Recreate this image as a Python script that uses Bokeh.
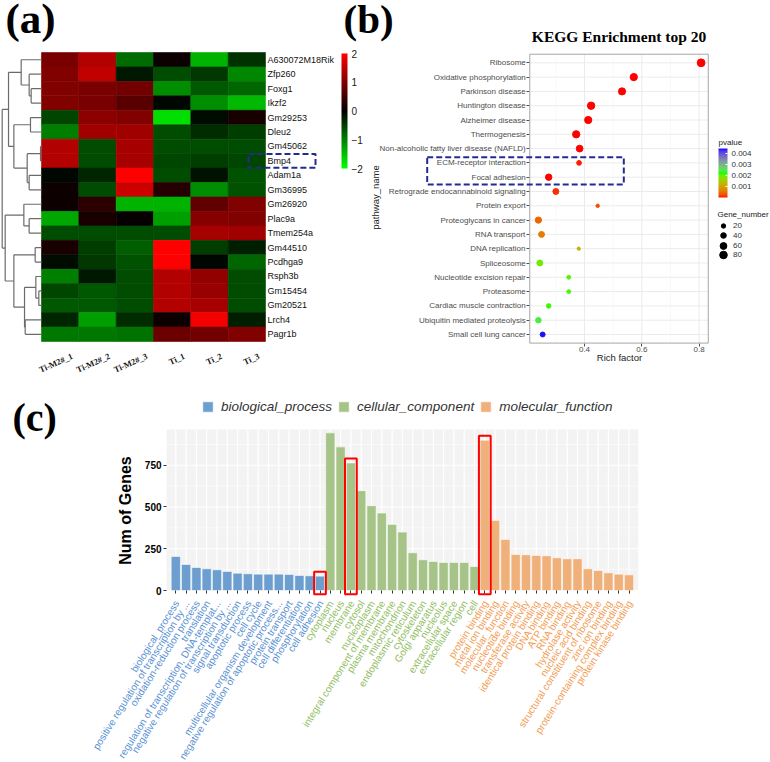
import numpy as np
from bokeh.plotting import figure
from bokeh.models import (ColumnDataSource, Range1d, LinearColorMapper, ColorBar, FixedTicker,
                          Label, Legend, LegendItem, BoxAnnotation, PrintfTickFormatter)
from bokeh.layouts import row, column
from bokeh.embed import file_html
from bokeh.resources import INLINE

# ======================= DATA =======================
# (a) heatmap: row-scaled expression (z-score), rows top -> bottom
genes = ["A630072M18Rik", "Zfp260", "Foxg1", "Ikzf2", "Gm29253", "Dleu2", "Gm45062", "Bmp4",
         "Adam1a", "Gm36995", "Gm26920", "Plac9a", "Tmem254a", "Gm44510", "Pcdhga9", "Rsph3b",
         "Gm15454", "Gm20521", "Lrch4", "Pagr1b"]
samples = ["Ti-M2#_1", "Ti-M2#_2", "Ti-M2#_3", "Ti_1", "Ti_2", "Ti_3"]
z_TiM2_1 = [0.95, 1.0, 1.0, 1.0, -0.55, -1.0, 1.4, 1.4, -0.05, 0.1, 0.1, -1.3, -0.6, 0.2, -0.1, -1.0, -0.55, -0.7, -0.3, -0.95]
z_TiM2_2 = [1.4, 1.5, 0.95, 0.95, 1.1, 1.25, -0.6, -0.6, -0.3, -0.6, 0.35, 0.2, -0.6, -0.5, -0.45, -0.2, -0.7, -0.7, -1.25, -0.95]
z_TiM2_3 = [-0.85, -0.2, 0.9, 0.7, 1.0, 1.25, 1.3, 1.3, 2.0, 1.6, -1.4, 0.05, -0.6, -0.75, -0.65, -0.6, -0.6, -0.6, -0.35, -0.9]
z_Ti_1 = [0.1, -0.6, -1.1, -0.05, -1.75, -0.6, -0.6, -0.55, -0.6, 0.3, -1.4, -1.25, -0.6, 2.0, 2.0, 1.4, 1.4, 1.4, 0.1, 0.85]
z_Ti_2 = [-1.4, -0.45, -0.7, -1.1, -0.1, -0.35, -0.6, -0.5, -0.15, -1.1, 0.75, 1.05, 1.3, -0.5, -0.05, 1.15, 1.2, 1.3, 1.9, 0.9]
z_Ti_3 = [-0.4, -1.05, -0.8, -1.45, 0.2, -0.5, -0.6, -0.55, -0.65, -0.65, 1.0, 1.0, 1.25, -0.25, -0.8, -0.6, -0.6, -0.6, -0.25, 1.0]
# row dendrogram: merge k creates node 20+k from (left, right) at relative height
dendro_left = [2, 1, 0, 4, 6, 8, 24, 23, 22, 11, 10, 13, 16, 15, 18, 33, 31, 30, 28]
dendro_right = [3, 20, 21, 5, 7, 9, 25, 26, 27, 12, 29, 14, 17, 32, 19, 34, 35, 36, 37]
dendro_height = [0.263, 0.314, 0.517, 0.28, 0.025, 0.314, 0.364, 0.703, 0.839, 0.314, 0.449,
                 0.161, 0.068, 0.144, 0.415, 0.432, 0.703, 0.924, 1.0]
heat_ticks = [-2, -1, 0, 1, 2]
highlight_gene = "Bmp4"

# (b) KEGG enrichment top 20
pathways = ["Ribosome", "Oxidative phosphorylation", "Parkinson disease", "Huntington disease",
            "Alzheimer disease", "Thermogenesis", "Non-alcoholic fatty liver disease (NAFLD)",
            "ECM-receptor interaction", "Focal adhesion", "Retrograde endocannabinoid signaling",
            "Protein export", "Proteoglycans in cancer", "RNA transport", "DNA replication",
            "Spliceosome", "Nucleotide excision repair", "Proteasome", "Cardiac muscle contraction",
            "Ubiquitin mediated proteolysis", "Small cell lung cancer"]
rich_factor = [0.807, 0.572, 0.531, 0.423, 0.413, 0.371, 0.383, 0.381, 0.275, 0.300,
               0.446, 0.239, 0.250, 0.380, 0.244, 0.345, 0.345, 0.275, 0.239, 0.254]
gene_number = [90, 75, 72, 78, 74, 76, 62, 25, 55, 45, 10, 52, 45, 8, 45, 14, 14, 22, 38, 28]
pvalue = [1e-12, 1e-9, 1e-8, 1e-6, 1e-6, 1e-5, 1e-5, 5e-5, 1e-5, 1e-4,
          2.5e-4, 4e-4, 6e-4, 1.2e-3, 1.95e-3, 2.05e-3, 2.1e-3, 2.15e-3, 2.4e-3, 4.4e-3]
rich_ticks = [0.4, 0.6, 0.8]
rich_minor = [0.3, 0.5, 0.7]
rich_limits = [0.209, 0.832]
size_legend_values = [20, 40, 60, 80]
pvalue_ticks = [0.001, 0.002, 0.003, 0.004]
pvalue_limits = [0.0, 0.00445]
highlight_pathways = ["ECM-receptor interaction", "Focal adhesion"]

# (c) GO annotation
bp_terms = ["biological_process", "positive regulation of transcription by ...",
            "oxidation-reduction process", "translation", "regulation of transcription, DNA-templat...",
            "negative regulation of transcription by ...", "signal transduction", "apoptotic process",
            "cell cycle", "multicellular organism development",
            "negative regulation of apoptotic process...", "protein transport", "cell differentiation",
            "phosphorylation", "cell adhesion"]
bp_counts = [204, 156, 138, 130, 124, 114, 104, 100, 98, 98, 98, 96, 90, 88, 86]
cc_terms = ["cytoplasm", "nucleus", "membrane", "cytosol", "nucleoplasm",
            "integral component of membrane", "plasma membrane", "mitochondrion",
            "endoplasmic reticulum", "cytoskeleton", "Golgi apparatus", "nucleolus",
            "extracellular space", "extracellular region", "cell"]
cc_counts = [944, 860, 764, 598, 508, 464, 396, 350, 226, 184, 174, 168, 168, 168, 144]
mf_terms = ["protein binding", "metal ion binding", "molecular_function", "nucleotide binding",
            "transferase activity", "identical protein binding", "DNA binding", "ATP binding",
            "RNA binding", "hydrolase activity", "nucleic acid binding",
            "structural constituent of ribosome", "zinc ion binding",
            "protein-containing complex binding", "protein kinase binding"]
mf_counts = [900, 420, 306, 216, 214, 210, 208, 196, 190, 190, 130, 120, 106, 98, 94]
go_groups = ["biological_process", "cellular_component", "molecular_function"]
go_ticks = [0, 250, 500, 750]
go_minor = [125, 375, 625, 875]
go_ymax = 964
highlight_terms = ["cell adhesion", "membrane", "protein binding"]

# ======================= HELPERS =======================
M_RGB2XYZ = np.array([[0.4124564, 0.3575761, 0.1804375],
                      [0.2126729, 0.7151522, 0.0721750],
                      [0.0193339, 0.1191920, 0.9503041]])
WHITE = np.array([0.95047, 1.0, 1.08883])


def hex_to_lab(h):
    c = np.array([int(h[i:i + 2], 16) for i in (1, 3, 5)], float) / 255
    lin = np.where(c <= 0.04045, c / 12.92, ((c + 0.055) / 1.055) ** 2.4)
    xyz = M_RGB2XYZ @ lin / WHITE
    d = 6 / 29
    f = np.where(xyz > d ** 3, np.cbrt(xyz), xyz / (3 * d * d) + 4 / 29)
    return np.array([116 * f[1] - 16, 500 * (f[0] - f[1]), 200 * (f[1] - f[2])])


def lab_to_hex(lab):
    L, a, b = lab
    fy = (L + 16) / 116
    f = np.array([fy + a / 500, fy, fy - b / 200])
    d = 6 / 29
    xyz = np.where(f > d, f ** 3, 3 * d * d * (f - 4 / 29)) * WHITE
    lin = np.clip(np.linalg.inv(M_RGB2XYZ) @ xyz, 0, 1)
    c = np.where(lin <= 0.0031308, 12.92 * lin, 1.055 * lin ** (1 / 2.4) - 0.055)
    c = np.clip(np.round(c * 255), 0, 255).astype(int)
    return "#%02x%02x%02x" % tuple(c)


def lab_palette(hexes, n=256):
    labs = [hex_to_lab(h) for h in hexes]
    k = len(labs) - 1
    out = []
    for t in np.linspace(0, 1, n):
        s = t * k
        i = min(int(s), k - 1)
        f = s - i
        out.append(lab_to_hex(labs[i] * (1 - f) + labs[i + 1] * f))
    return out


def rgb_palette(n_half=128):
    out = []
    for t in np.linspace(0, 1, n_half):
        out.append("#%02x%02x%02x" % (0, int(round(255 * (1 - t))), 0))
    for t in np.linspace(0, 1, n_half):
        out.append("#%02x%02x%02x" % (int(round(255 * t)), 0, 0))
    return out


SANS = "Liberation Sans"
SERIF = "Liberation Serif"


def style_axis(ax, size, color, tick_color=None, standoff=2, font=SANS, bold=False):
    ax.axis_line_color = None
    ax.minor_tick_line_color = None
    ax.major_label_text_font = font
    ax.major_label_text_font_size = size
    ax.major_label_text_color = color
    ax.major_label_text_font_style = "bold" if bold else "normal"
    ax.major_label_standoff = standoff
    if tick_color is None:
        ax.major_tick_line_color = None
        ax.major_tick_out = 0
    else:
        ax.major_tick_line_color = tick_color
        ax.major_tick_out = 3
    ax.major_tick_in = 0


def new_fig(w, h, xr, yr, **kw):
    # the whole canvas is the frame; axes are pinned with fixed_location
    return figure(width=w, height=h, x_range=Range1d(*xr), y_range=Range1d(*yr),
                  toolbar_location=None, output_backend="svg",
                  min_border_left=0, min_border_right=0, min_border_top=0, min_border_bottom=0,
                  outline_line_color=None, **kw)


# ======================= (a) HEATMAP =======================
A_W, A_H = 368, 380
A_X0, A_COLW, A_Y0, A_ROWH = 41, 37.33, 52, 14.45


def ax_(X):
    return (X - A_X0) / A_COLW - 0.5


def ay_(Y):
    return 19.5 - (Y - A_Y0) / A_ROWH


DENDRO_W = 1.053
p1 = new_fig(A_W, A_H, (ax_(0), ax_(A_W)), (ay_(A_H), ay_(0)), y_axis_location="right")
p1.grid.visible = False

hmap = LinearColorMapper(palette=rgb_palette(), low=heat_ticks[0], high=heat_ticks[-1])
cols = [z_TiM2_1, z_TiM2_2, z_TiM2_3, z_Ti_1, z_Ti_2, z_Ti_3]
ngene = len(genes)
hx, hy, hv = [], [], []
for j, col in enumerate(cols):
    for i, v in enumerate(col):
        hx.append(j)
        hy.append(ngene - 1 - i)
        hv.append(v)
src1 = ColumnDataSource(dict(x=hx, y=hy, v=hv))
p1.rect(x="x", y="y", width=1, height=1, source=src1,
        fill_color={"field": "v", "transform": hmap},
        line_color={"field": "v", "transform": hmap}, line_width=0.6)

pos_y = {i: ngene - 1 - i for i in range(ngene)}
pos_h = {i: 0.0 for i in range(ngene)}
sx0, sy0, sx1, sy1 = [], [], [], []
for k, (a, b, h) in enumerate(zip(dendro_left, dendro_right, dendro_height)):
    X = -0.5 - h * DENDRO_W
    ya, yb = pos_y[a], pos_y[b]
    sx0 += [X, -0.5 - pos_h[a] * DENDRO_W, -0.5 - pos_h[b] * DENDRO_W]
    sy0 += [ya, ya, yb]
    sx1 += [X, X, X]
    sy1 += [yb, ya, yb]
    pos_y[ngene + k] = (ya + yb) / 2
    pos_h[ngene + k] = h
p1.segment(x0=sx0, y0=sy0, x1=sx1, y1=sy1, line_color="#6b6b6b", line_width=1.2)

p1.xaxis.visible = False
for j, s in enumerate(samples):
    p1.add_layout(Label(x=j, y=-0.5, x_offset=12, y_offset=-14, text=s, angle=0.42,
                        text_align="right", text_baseline="middle", text_font=SERIF,
                        text_font_style="bold", text_font_size="8.5px", text_color="#111111"))
p1.yaxis.fixed_location = len(samples) - 0.5
p1.yaxis.ticker = FixedTicker(ticks=list(range(ngene)))
p1.yaxis.major_label_overrides = {ngene - 1 - i: g for i, g in enumerate(genes)}
style_axis(p1.yaxis, "9px", "#111111", standoff=2)

cb1 = ColorBar(color_mapper=hmap, location=(341, A_H - 168), width=6, height=115, padding=0,
               ticker=FixedTicker(ticks=heat_ticks), label_standoff=4,
               major_label_text_font=SANS, major_label_text_font_size="10px",
               major_label_text_color="#222222", major_tick_line_color=None,
               bar_line_color=None, background_fill_alpha=0, border_line_color=None)
p1.add_layout(cb1)

gi = ngene - 1 - genes.index(highlight_gene)
p1.add_layout(BoxAnnotation(left=ax_(248), right=ax_(315), bottom=gi - 0.48, top=gi + 0.48,
                            fill_alpha=0, line_color="#232b8f", line_alpha=1, line_width=2,
                            line_dash="6 3"))
p1.add_layout(Label(x=ax_(5), y=ay_(41), text="(a)", text_font=SERIF, text_font_style="bold",
                    text_font_size="43px", text_color="black"))

# ======================= (b) KEGG DOT PLOT =======================
B_CX, B_W, B_H = 340, 430, 380
B_X04, B_PXU, B_Y20, B_ROWH = 584, 286.5, 62.3, 14.3


def bx_(X):
    return rich_ticks[0] + (X - B_X04) / B_PXU


def by_(Y):
    return 20 - (Y - B_Y20) / B_ROWH


p2 = new_fig(B_W, B_H, (bx_(B_CX), bx_(B_CX + B_W)), (by_(B_H), by_(0)),
             border_fill_alpha=0, background_fill_alpha=0, margin=(0, 0, 0, -28))
p2.grid.visible = False
npath = len(pathways)
ylo, yhi = 0.4, npath + 0.6

p2.segment(x0=[rich_limits[0]] * npath, y0=list(range(1, npath + 1)),
           x1=[rich_limits[1]] * npath, y1=list(range(1, npath + 1)),
           line_color="#ebebeb", line_width=1)
p2.segment(x0=rich_minor, y0=[ylo] * 3, x1=rich_minor, y1=[yhi] * 3,
           line_color="#f3f3f3", line_width=0.6)
p2.segment(x0=rich_ticks, y0=[ylo] * 3, x1=rich_ticks, y1=[yhi] * 3,
           line_color="#ebebeb", line_width=1)
p2.add_layout(BoxAnnotation(left=rich_limits[0], right=rich_limits[1], bottom=ylo, top=yhi,
                            fill_alpha=0, line_color="#a6a6a6", line_alpha=1, line_width=1))

pmap = LinearColorMapper(palette=lab_palette(["#FF0000", "#00FF00", "#0000FF"]),
                         low=pvalue_limits[0], high=pvalue_limits[1])


def dot_size(n):
    return 1.3 + 0.69 * np.sqrt(np.asarray(n, float))


src2 = ColumnDataSource(dict(x=rich_factor, y=[npath - i for i in range(npath)],
                             size=dot_size(gene_number), p=pvalue))
p2.scatter("x", "y", size="size", source=src2,
           fill_color={"field": "p", "transform": pmap},
           line_color={"field": "p", "transform": pmap})

p2.xaxis.fixed_location = ylo
p2.xaxis.ticker = FixedTicker(ticks=rich_ticks)
p2.xaxis.formatter = PrintfTickFormatter(format="%.1f")
style_axis(p2.xaxis, "8px", "#4d4d4d", tick_color="#4d4d4d", standoff=1)
p2.yaxis.fixed_location = rich_limits[0]
p2.yaxis.ticker = FixedTicker(ticks=list(range(1, npath + 1)))
p2.yaxis.major_label_overrides = {npath - i: s for i, s in enumerate(pathways)}
style_axis(p2.yaxis, "8px", "#4d4d4d", tick_color="#4d4d4d", standoff=1)

p2.add_layout(Label(x=bx_(619), y=by_(357), text="Rich factor", text_font=SANS,
                    text_font_size="9.5px", text_color="#222222", text_align="center",
                    text_baseline="middle"))
p2.add_layout(Label(x=bx_(375), y=by_(197), text="pathway_name", text_font=SANS,
                    text_font_size="9.5px", text_color="#222222", text_align="center",
                    text_baseline="middle", angle=np.pi / 2))

cb2 = ColorBar(color_mapper=pmap, location=(718 - B_CX, B_H - 197), width=9, height=49,
               padding=0, ticker=FixedTicker(ticks=pvalue_ticks),
               formatter=PrintfTickFormatter(format="%.3f"),
               label_standoff=4, major_label_text_font=SANS, major_label_text_font_size="8px",
               major_label_text_color="#333333", major_tick_line_color="white",
               major_tick_out=0, major_tick_in=2, bar_line_color=None,
               background_fill_alpha=0, border_line_color=None)
p2.add_layout(cb2)
p2.add_layout(Label(x=bx_(718), y=by_(141.5), text="pvalue", text_font=SANS,
                    text_font_size="8px", text_color="#222222", text_baseline="middle"))
p2.add_layout(Label(x=bx_(717), y=by_(214), text="Gene_number", text_font=SANS,
                    text_font_size="8px", text_color="#222222", text_baseline="middle"))
for k, n in enumerate(size_legend_values):
    d = float(dot_size(n))
    gh = int(round(d / 0.4))
    # legend proxy: one point with no position, so nothing shows in the plot
    rr = p2.scatter(x=[float("nan")], y=[float("nan")], size=0.4 * gh,
                    fill_color="black", line_color="black")
    yc = 225.7 + k * 9.67
    p2.add_layout(Legend(items=[LegendItem(label=str(n), renderers=[rr])],
                         location=(713 - B_CX, B_H - (yc + gh / 2)),
                         glyph_width=20, glyph_height=gh, label_height=gh, label_standoff=0,
                         padding=0, margin=0, spacing=0, border_line_color=None,
                         background_fill_alpha=0, label_text_font=SANS,
                         label_text_font_size="8px", label_text_color="#333333"))

hp = [npath - pathways.index(s) for s in highlight_pathways]
p2.add_layout(BoxAnnotation(left=bx_(426.7), right=bx_(623.3), bottom=min(hp) - 0.51,
                            top=max(hp) + 0.4, fill_alpha=0, line_color="#232b8f",
                            line_alpha=1, line_width=2, line_dash="6 3"))
p2.add_layout(Label(x=bx_(343), y=by_(41), text="(b)", text_font=SERIF, text_font_style="bold",
                    text_font_size="41px", text_color="black"))
p2.add_layout(Label(x=(rich_limits[0] + rich_limits[1]) / 2, y=by_(44),
                    text="KEGG Enrichment top 20", text_font=SERIF, text_font_style="bold",
                    text_font_size="15.5px", text_color="black", text_align="center"))

# ======================= (c) GO BAR CHART =======================
C_CY, C_W, C_H = 380, 770, 382
C_X0, C_PITCH, C_Y0, C_PXG = 175.3, 10.3, 590, 0.167012


def cx_(X):
    return (X - C_X0) / C_PITCH


def cy_(Y):
    return (C_Y0 - Y) / C_PXG


all_terms = bp_terms + cc_terms + mf_terms
all_counts = bp_counts + cc_counts + mf_counts
nterm = len(all_terms)
xlo, xhi = -0.9, nterm - 0.1
p3 = new_fig(C_W, C_H, (cx_(0), cx_(C_W)), (cy_(C_CY + C_H), cy_(C_CY)))
p3.grid.visible = False

p3.add_layout(BoxAnnotation(left=xlo, right=xhi, bottom=0, top=go_ymax, fill_color="#f3f3f3",
                            fill_alpha=1, line_color=None, level="underlay"))
p3.segment(x0=list(range(nterm)), y0=[0] * nterm, x1=list(range(nterm)), y1=[go_ymax] * nterm,
           line_color="white", line_width=1.2)
p3.segment(x0=[xlo] * len(go_minor), y0=go_minor, x1=[xhi] * len(go_minor), y1=go_minor,
           line_color="white", line_width=0.6)
p3.segment(x0=[xlo] * len(go_ticks), y0=go_ticks, x1=[xhi] * len(go_ticks), y1=go_ticks,
           line_color="white", line_width=1.2)

bar_colors = ["#6c9ecf", "#a7c488", "#f0b07a"]
text_colors = ["#5890d2", "#8fbd62", "#f29c52"]
groups_terms = [bp_terms, cc_terms, mf_terms]
groups_counts = [bp_counts, cc_counts, mf_counts]
renderers = []
start = 0
for g, (terms, counts) in enumerate(zip(groups_terms, groups_counts)):
    xs = list(range(start, start + len(terms)))
    r = p3.vbar(x=xs, top=counts, bottom=0, width=0.9, fill_color=bar_colors[g],
                line_color="white", line_alpha=0.6, line_width=1)
    renderers.append(r)
    for x, t in zip(xs, terms):
        p3.add_layout(Label(x=x, y=0, x_offset=1, y_offset=-11, text=t, angle=np.deg2rad(58),
                            text_align="right", text_baseline="middle", text_font=SANS,
                            text_font_size="10px", text_color=text_colors[g]))
    start += len(terms)

p3.xaxis.fixed_location = 0
p3.xaxis.ticker = FixedTicker(ticks=list(range(nterm)))
p3.xaxis.major_label_overrides = {i: "" for i in range(nterm)}
style_axis(p3.xaxis, "10px", "black", tick_color="#333333")
p3.yaxis.fixed_location = xlo
p3.yaxis.ticker = FixedTicker(ticks=go_ticks)
style_axis(p3.yaxis, "10px", "black", tick_color="#333333", standoff=2, bold=True)
p3.add_layout(Label(x=cx_(125), y=cy_(510), text="Num of Genes", text_font=SANS,
                    text_font_style="bold", text_font_size="16px", text_color="black",
                    text_align="center", text_baseline="middle", angle=np.pi / 2))

for t in highlight_terms:
    i = all_terms.index(t)
    p3.add_layout(BoxAnnotation(left=i - 0.57, right=i + 0.57, bottom=-22, top=all_counts[i] + 26,
                                fill_alpha=0, line_color="#ff0000", line_alpha=1, line_width=2))

leg3 = Legend(items=[LegendItem(label=g, renderers=[r]) for g, r in zip(go_groups, renderers)],
              orientation="horizontal", location=(201, C_CY + C_H - 414),
              glyph_width=13, glyph_height=13, label_height=13, label_standoff=7, spacing=5,
              padding=0, margin=0, border_line_color=None, background_fill_alpha=0,
              label_text_font=SANS, label_text_font_style="italic", label_text_font_size="13.5px",
              label_text_color="#333333")
p3.add_layout(leg3)
p3.add_layout(Label(x=cx_(12), y=cy_(439), text="(c)", text_font=SERIF, text_font_style="bold",
                    text_font_size="40px", text_color="black"))

layout = column(row(p1, p2), p3)
open("out.html", "w").write(file_html(layout, INLINE))
